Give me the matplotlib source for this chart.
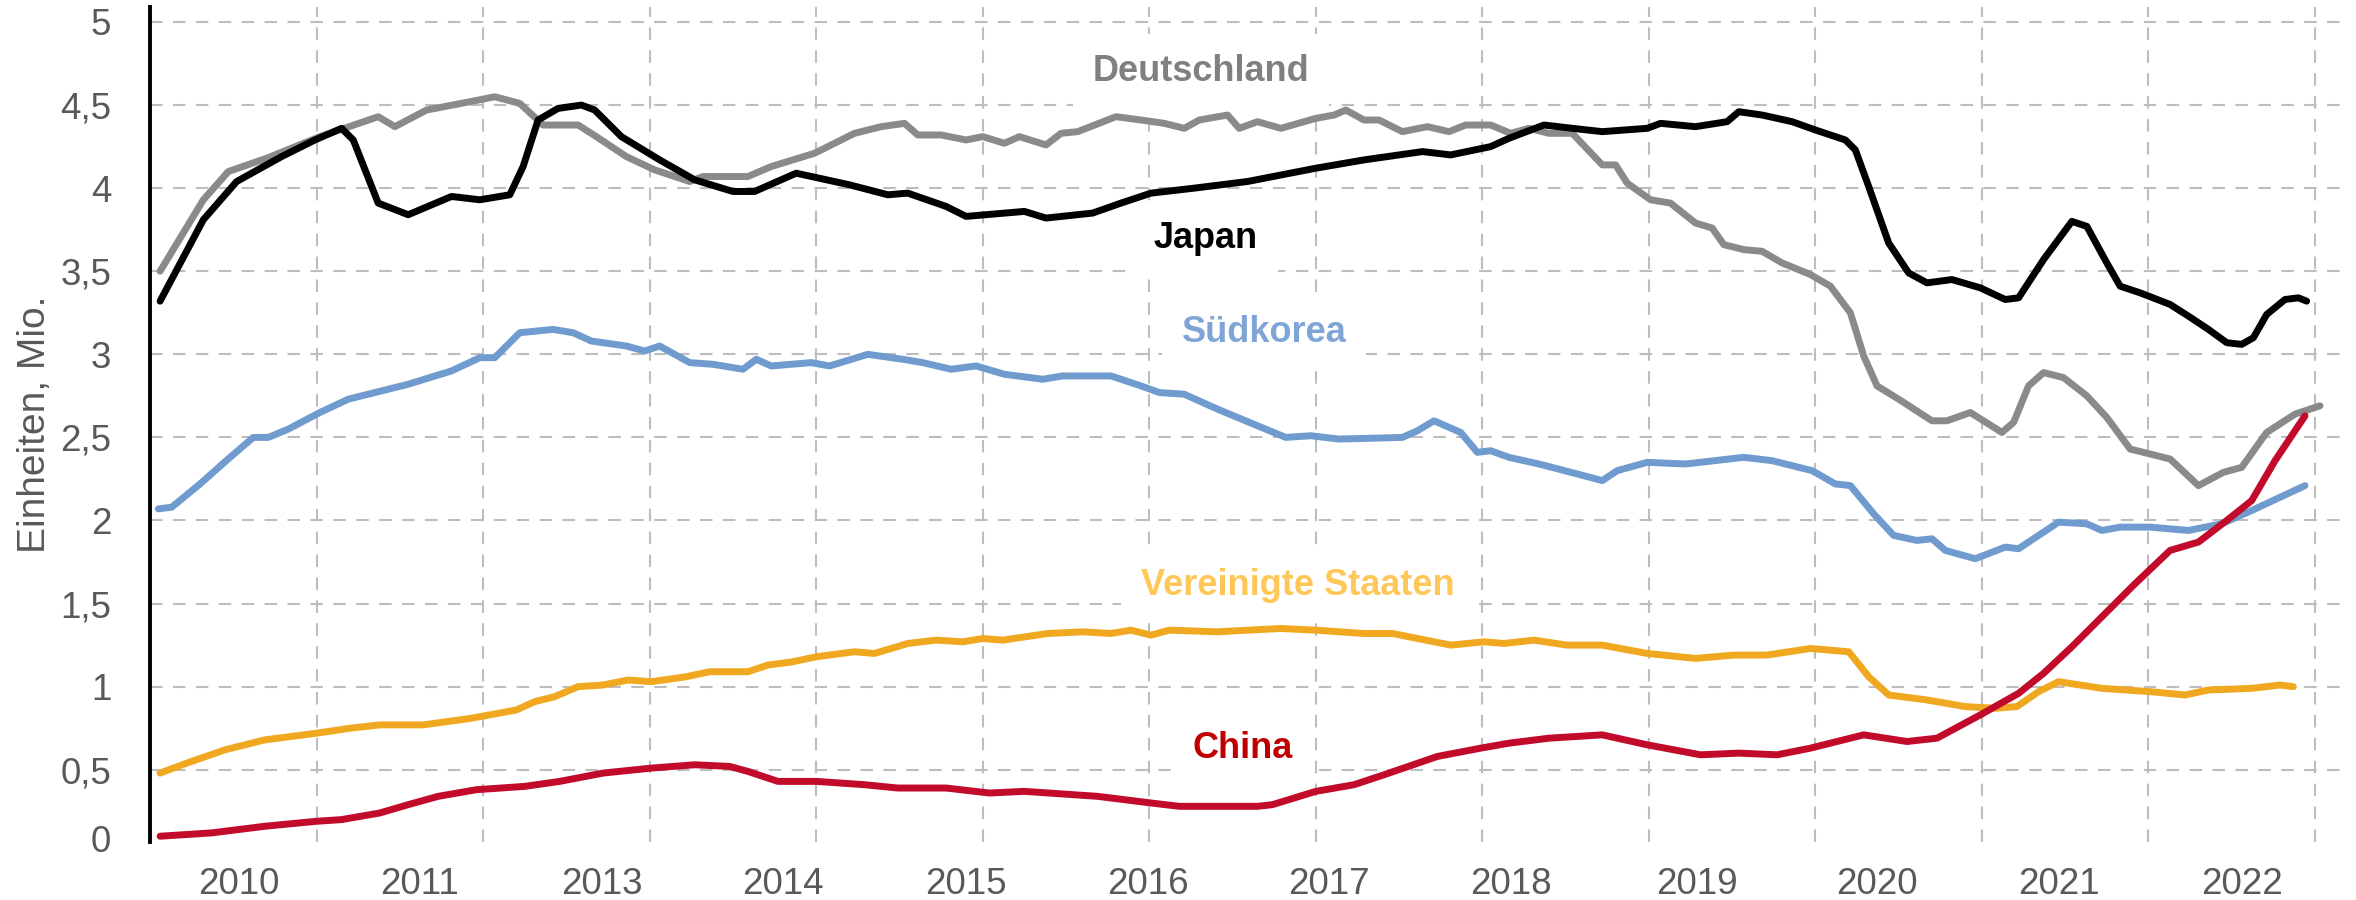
import matplotlib
matplotlib.use('Agg')
import matplotlib.pyplot as plt

plt.rcParams['font.family'] = ['Liberation Sans', 'DejaVu Sans']

# Zeitachse: 1 Einheit = ein Gitterfeld (Start bei 0)
de_x = [0.06, 0.32, 0.47, 0.70, 1.02, 1.37, 1.47, 1.66, 1.92, 2.07, 2.22, 2.36, 2.57, 2.68, 2.86,
        3.03, 3.24, 3.32, 3.59, 3.73, 3.99, 4.23, 4.39, 4.53, 4.61, 4.75, 4.90, 5.00, 5.13, 5.22,
        5.38, 5.47, 5.57, 5.80, 5.95, 6.09, 6.21, 6.30, 6.47, 6.54, 6.65, 6.79, 7.00, 7.11, 7.18,
        7.29, 7.38, 7.52, 7.67, 7.80, 7.90, 8.05, 8.17, 8.28, 8.40, 8.54, 8.72, 8.80, 8.87, 9.01,
        9.13, 9.28, 9.38, 9.45, 9.57, 9.68, 9.80, 9.97, 10.09, 10.21, 10.29, 10.37, 10.50, 10.70,
        10.79, 10.93, 11.12, 11.19, 11.28, 11.37, 11.49, 11.63, 11.75, 11.89, 12.13, 12.30, 12.45,
        12.56, 12.71, 12.88, 13.03]
de_y = [3.50, 3.93, 4.10, 4.18, 4.31, 4.43, 4.37, 4.47, 4.52, 4.55, 4.51, 4.38, 4.38, 4.31, 4.19,
        4.11, 4.04, 4.07, 4.07, 4.13, 4.21, 4.33, 4.37, 4.39, 4.32, 4.32, 4.29, 4.31, 4.27, 4.31,
        4.26, 4.33, 4.34, 4.43, 4.41, 4.39, 4.36, 4.41, 4.44, 4.36, 4.40, 4.36, 4.42, 4.44, 4.47,
        4.41, 4.41, 4.34, 4.37, 4.34, 4.38, 4.38, 4.33, 4.36, 4.33, 4.33, 4.14, 4.14, 4.03, 3.93,
        3.91, 3.79, 3.76, 3.66, 3.63, 3.62, 3.55, 3.48, 3.41, 3.25, 2.99, 2.81, 2.73, 2.60,
        2.60, 2.65, 2.53, 2.59, 2.81, 2.89, 2.86, 2.75, 2.62, 2.43, 2.37, 2.21, 2.29,
        2.32, 2.53, 2.64, 2.69]

jp_x = [0.06, 0.32, 0.52, 0.79, 0.99, 1.15, 1.22, 1.37, 1.55, 1.81, 1.98, 2.16, 2.24, 2.33, 2.45,
        2.59, 2.67, 2.83, 3.06, 3.27, 3.50, 3.63, 3.88, 4.20, 4.43, 4.55, 4.78, 4.90, 5.25, 5.38,
        5.66, 5.83, 6.01, 6.27, 6.59, 7.00, 7.29, 7.64, 7.81, 8.05, 8.16, 8.37, 8.54, 8.72, 8.99,
        9.07, 9.28, 9.47, 9.54, 9.68, 9.86, 10.00, 10.18, 10.24, 10.32, 10.44, 10.56, 10.67, 10.82,
        10.99, 11.14, 11.22, 11.37, 11.54, 11.63, 11.75, 11.83, 11.95, 12.13, 12.24, 12.36, 12.47,
        12.56, 12.63, 12.71, 12.82, 12.90, 12.95]
jp_y = [3.32, 3.81, 4.04, 4.19, 4.29, 4.36, 4.29, 3.91, 3.84, 3.95, 3.93, 3.96, 4.13, 4.41, 4.48,
        4.50, 4.47, 4.31, 4.17, 4.05, 3.98, 3.98, 4.09, 4.02, 3.96, 3.97, 3.89, 3.83, 3.86, 3.82,
        3.85, 3.91, 3.97, 4.00, 4.04, 4.12, 4.17, 4.22, 4.20, 4.25, 4.30, 4.38, 4.36, 4.34, 4.36,
        4.39, 4.37, 4.40, 4.46, 4.44, 4.40, 4.35, 4.29, 4.23, 4.01, 3.67, 3.49, 3.43, 3.45,
        3.40, 3.33, 3.34, 3.57, 3.80, 3.77, 3.55, 3.41, 3.37, 3.30, 3.23, 3.15, 3.07,
        3.06, 3.10, 3.24, 3.33, 3.34, 3.32]

kr_x = [0.05, 0.13, 0.30, 0.48, 0.62, 0.71, 0.83, 1.02, 1.19, 1.55, 1.81, 1.98, 2.07, 2.22, 2.42,
        2.54, 2.65, 2.86, 2.97, 3.06, 3.24, 3.38, 3.56, 3.64, 3.73, 3.97, 4.08, 4.31, 4.52, 4.64,
        4.81, 4.96, 5.13, 5.36, 5.48, 5.77, 5.95, 6.06, 6.21, 6.41, 6.65, 6.82, 6.97, 7.14, 7.52,
        7.61, 7.71, 7.87, 7.97, 8.05, 8.16, 8.34, 8.57, 8.72, 8.81, 8.99, 9.22, 9.57, 9.74, 9.98,
        10.12, 10.21, 10.35, 10.47, 10.61, 10.70, 10.78, 10.96, 11.14, 11.22, 11.46, 11.63, 11.72,
        11.83, 12.01, 12.24, 12.44, 12.62, 12.94]
kr_y = [2.07, 2.08, 2.22, 2.38, 2.50, 2.50, 2.55, 2.65, 2.73, 2.82, 2.90, 2.98, 2.98, 3.13, 3.15,
        3.13, 3.08, 3.05, 3.02, 3.05, 2.95, 2.94, 2.91, 2.97, 2.93, 2.95, 2.93, 3.00, 2.97, 2.95,
        2.91, 2.93, 2.88, 2.85, 2.87, 2.87, 2.81, 2.77, 2.76, 2.67, 2.57, 2.50, 2.51, 2.49, 2.50,
        2.54, 2.60, 2.53, 2.41, 2.42, 2.38, 2.34, 2.28, 2.24, 2.30, 2.35, 2.34, 2.38, 2.36, 2.30,
        2.22, 2.21, 2.04, 1.91, 1.88, 1.89, 1.82, 1.77, 1.84, 1.83, 1.99, 1.98, 1.94,
        1.96, 1.96, 1.94, 1.98, 2.06, 2.21]

us_x = [0.06, 0.22, 0.45, 0.69, 1.00, 1.20, 1.38, 1.64, 1.93, 2.20, 2.31, 2.43, 2.57, 2.72, 2.87,
        3.01, 3.22, 3.36, 3.59, 3.71, 3.86, 4.00, 4.23, 4.35, 4.55, 4.72, 4.88, 5.00, 5.12, 5.39,
        5.60, 5.77, 5.89, 6.01, 6.12, 6.41, 6.59, 6.79, 7.00, 7.29, 7.46, 7.66, 7.81, 8.01, 8.13,
        8.31, 8.51, 8.72, 8.99, 9.28, 9.51, 9.71, 9.97, 10.20, 10.32, 10.44, 10.67, 10.90, 11.08,
        11.21, 11.34, 11.46, 11.72, 12.01, 12.22, 12.36, 12.62, 12.79, 12.87]
us_y = [0.48, 0.54, 0.62, 0.68, 0.72, 0.75, 0.77, 0.77, 0.81, 0.86, 0.91, 0.94, 1.00, 1.01, 1.04,
        1.03, 1.06, 1.09, 1.09, 1.13, 1.15, 1.18, 1.21, 1.20, 1.26, 1.28, 1.27, 1.29, 1.28, 1.32,
        1.33, 1.32, 1.34, 1.31, 1.34, 1.33, 1.34, 1.35, 1.34, 1.32, 1.32, 1.28, 1.25, 1.27, 1.26,
        1.28, 1.25, 1.25, 1.20, 1.17, 1.19, 1.19, 1.23, 1.21, 1.06, 0.95, 0.92, 0.88, 0.87,
        0.88, 0.97, 1.03, 0.99, 0.97, 0.95, 0.98, 0.99, 1.01, 1.00]

cn_x = [0.06, 0.37, 0.69, 1.00, 1.15, 1.38, 1.55, 1.73, 1.96, 2.25, 2.46, 2.72, 3.01, 3.27, 3.48,
        3.59, 3.77, 4.00, 4.29, 4.49, 4.78, 5.04, 5.25, 5.69, 6.01, 6.18, 6.65, 6.74, 7.00, 7.23,
        7.41, 7.73, 7.99, 8.16, 8.40, 8.72, 8.99, 9.31, 9.54, 9.77, 9.97, 10.09, 10.29, 10.55,
        10.73, 10.99, 11.22, 11.37, 11.54, 11.72, 11.92, 12.13, 12.30, 12.47, 12.62, 12.76, 12.94]
cn_y = [0.10, 0.12, 0.16, 0.19, 0.20, 0.24, 0.29, 0.34, 0.38, 0.40, 0.43, 0.48, 0.51, 0.53, 0.52,
        0.49, 0.43, 0.43, 0.41, 0.39, 0.39, 0.36, 0.37, 0.34, 0.30, 0.28, 0.28, 0.29, 0.37, 0.41,
        0.47, 0.58, 0.63, 0.66, 0.69, 0.71, 0.65, 0.59, 0.60, 0.59, 0.63, 0.66, 0.71, 0.67,
        0.69, 0.83, 0.96, 1.08, 1.24, 1.42, 1.62, 1.82, 1.87, 2.00, 2.12, 2.36, 2.63]

year_labels = ['2010', '2011', '2013', '2014', '2015', '2016', '2017', '2018', '2019', '2020', '2021', '2022']
year_pos = [0.53, 1.62, 2.71, 3.80, 4.90, 5.99, 7.08, 8.17, 9.29, 10.37, 11.46, 12.56]
y_ticks = [0.5, 1, 1.5, 2, 2.5, 3, 3.5, 4, 4.5, 5]
y_labels = ['0,5', '1', '1,5', '2', '2,5', '3', '3,5', '4', '4,5', '5']

fig = plt.figure(figsize=(23.56, 9), dpi=100)
ax = fig.add_axes([0.0637, 0.0644, 0.9295, 0.9278])

grid_kw = dict(color='#bdbdbd', lw=1.5, dashes=(6, 5), zorder=1)
for v in y_ticks:
    ax.axhline(v, **grid_kw)
for g in range(1, 14):
    ax.axvline(g, **grid_kw)

ax.plot(de_x, de_y, color='#8a8a8a', lw=5, solid_joinstyle='round', solid_capstyle='round', zorder=3)
ax.plot(jp_x, jp_y, color='#000000', lw=5, solid_joinstyle='round', solid_capstyle='round', zorder=3)
ax.plot(kr_x, kr_y, color='#6f9bcf', lw=5, solid_joinstyle='round', solid_capstyle='round', zorder=3)
ax.plot(us_x, us_y, color='#f0a820', lw=5, solid_joinstyle='round', solid_capstyle='round', zorder=3)
ax.plot(cn_x, cn_y, color='#c20a2a', lw=5, solid_joinstyle='round', solid_capstyle='round', zorder=3)

box = dict(facecolor='white', edgecolor='none', boxstyle='square,pad=0.55')
lab_kw = dict(fontsize=26, fontweight='bold', ha='center', va='center', bbox=box, zorder=2)
ax.text(6.31, 4.70, 'Deutschland', color='#808080', **lab_kw)
ax.text(6.34, 3.70, 'Japan', color='#000000', **lab_kw)
ax.text(6.69, 3.13, 'Südkorea', color='#7ea5d5', **lab_kw)
ax.text(6.89, 1.61, 'Vereinigte Staaten', color='#ffc658', **lab_kw)
ax.text(6.56, 0.63, 'China', color='#c00000', **lab_kw)

ax.set_xlim(0, 13.15)
ax.set_ylim(0.065, 5.09)
ax.set_xticks(year_pos)
ax.set_xticklabels(year_labels)
ax.set_yticks(y_ticks)
ax.set_yticklabels(y_labels)
ax.tick_params(axis='both', length=0, labelsize=26.5, labelcolor='#595959')
ax.tick_params(axis='x', pad=18)
ax.tick_params(axis='y', pad=28)
# "0" sitzt am unteren Achsenende, ohne eigene Gitterlinie
ax.text(-0.018, 0.065, '0', transform=ax.get_yaxis_transform(), ha='right', va='center',
        fontsize=26.5, color='#595959')

for s in ['top', 'right', 'bottom']:
    ax.spines[s].set_visible(False)
ax.spines['left'].set_linewidth(2.8)
ax.spines['left'].set_color('black')

ax.set_ylabel('Einheiten, Mio.', fontsize=28, color='#595959', va='center')
ax.yaxis.set_label_coords(-0.0525, 0.5)

fig.savefig('out.png', dpi=100)
